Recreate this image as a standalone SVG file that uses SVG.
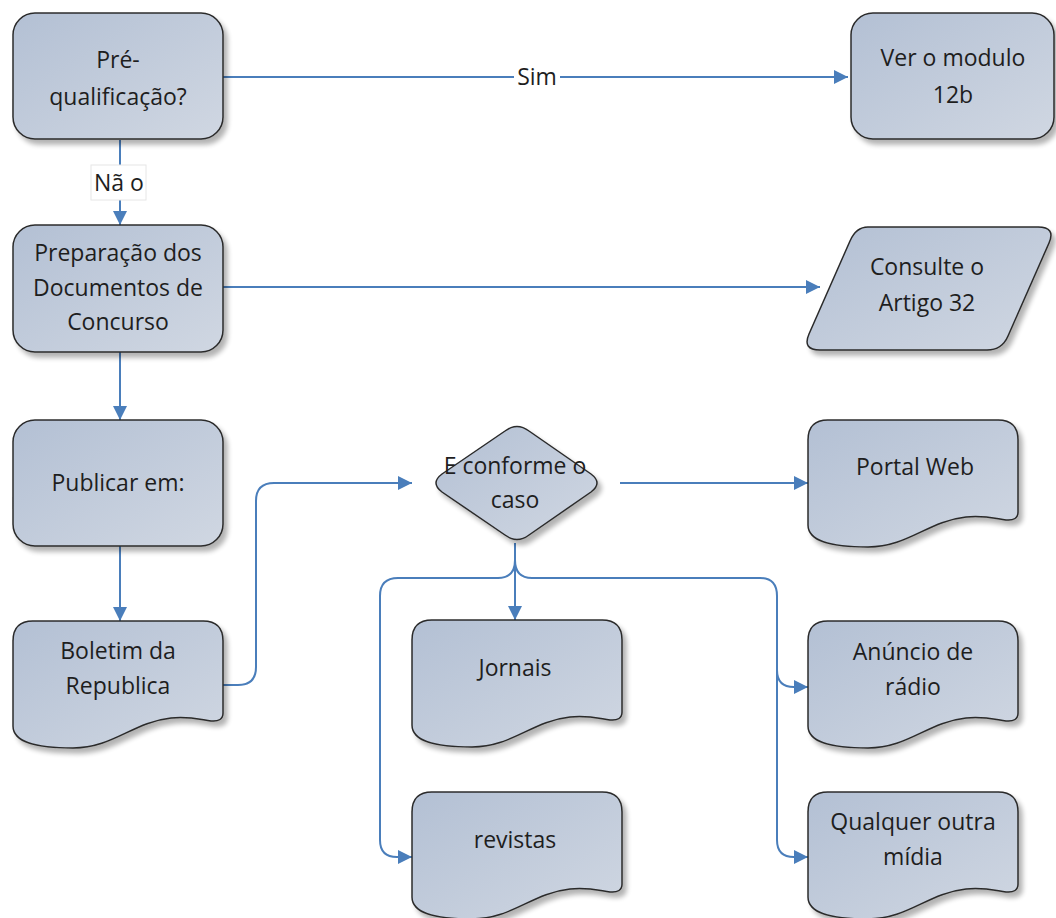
<svg xmlns="http://www.w3.org/2000/svg" width="1056" height="918" viewBox="0 0 1056 918">
<defs>
<linearGradient id="g" x1="0" y1="0" x2="1" y2="1">
<stop offset="0" stop-color="#b3c0d4"/>
<stop offset="1" stop-color="#d0d7e2"/>
</linearGradient>
<filter id="sh" x="-10%" y="-10%" width="130%" height="130%">
<feGaussianBlur in="SourceAlpha" stdDeviation="2.5"/>
<feOffset dx="4" dy="5" result="b"/>
<feComponentTransfer><feFuncA type="linear" slope="0.3"/></feComponentTransfer>
<feMerge><feMergeNode/><feMergeNode in="SourceGraphic"/></feMerge>
</filter>
<marker id="ah" viewBox="0 0 14 14" refX="14" refY="7" markerWidth="14" markerHeight="14" markerUnits="userSpaceOnUse" orient="auto">
<path d="M0,0 L14,7 L0,14 Z" fill="#4a7ebb"/>
</marker>
<path id="doc" d="M0,20 Q0,0 20,0 H190 Q210,0 210,20 V92 Q210,101 198,100 C185,98 175,95 158,97 C120,101 100,127 60,127 C25,127 0,122 0,105 Z"/>
</defs>
<style>
.n{fill:url(#g);stroke:#2b2b2b;stroke-width:1.5;filter:url(#sh)}
.t{font-family:"Open Sans","Liberation Sans",sans-serif;font-size:23px;fill:#1e1e1e;text-anchor:middle}
.c{fill:none;stroke:#4a7ebb;stroke-width:2}
.a{marker-end:url(#ah)}
</style>
<rect width="1056" height="918" fill="#ffffff"/>

<g id="connectors">
<path class="c a" d="M223,77 H848"/>
<path class="c a" d="M120,140 V225"/>
<path class="c a" d="M223,287 H820"/>
<path class="c a" d="M120,352 V420"/>
<path class="c a" d="M120,546 V621"/>
<path class="c a" d="M223,685 H238 Q256,685 256,667 V501 Q256,483 274,483 H412"/>
<path class="c a" d="M620,483 H808"/>
<path class="c a" d="M515,543 V620"/>
<path class="c a" d="M515,560 Q515,578 498,578 H398 Q380,578 380,596 V840 Q380,857 397,857 H412"/>
<path class="c a" d="M515,560 Q515,578 532,578 H760 Q777,578 777,596 V670 Q777,687 794,687 H808"/>
<path class="c a" d="M777,600 V840 Q777,857 794,857 H808"/>
<rect x="514" y="63" width="46" height="28" fill="#ffffff"/>
<text class="t" x="537" y="85">Sim</text>
<rect x="91" y="165" width="55" height="35" fill="#ffffff" stroke="#e6e6e6" stroke-width="1"/>
<text class="t" x="119" y="191">Nã o</text>
</g>

<g id="n1">
<rect class="n" x="13" y="13" width="210" height="126" rx="22"/>
<text class="t" x="118" y="68">Pré-</text>
<text class="t" x="118" y="105">qualificação?</text>
</g>
<g id="n2">
<rect class="n" x="851" y="13" width="203" height="126" rx="22"/>
<text class="t" x="953" y="66">Ver o modulo</text>
<text class="t" x="953" y="103">12b</text>
</g>
<g id="n3">
<rect class="n" x="13" y="225" width="210" height="127" rx="22"/>
<text class="t" x="118" y="261">Preparação dos</text>
<text class="t" x="118" y="296">Documentos de</text>
<text class="t" x="118" y="330">Concurso</text>
</g>
<g id="n4">
<path class="n" d="M868,227 H1038 Q1056,227 1049,243 L1008,336 Q1002,350 987,350 H820 Q802,350 809,334 L850,241 Q856,227 868,227 Z"/>
<text class="t" x="927" y="275">Consulte o</text>
<text class="t" x="927" y="311">Artigo 32</text>
</g>
<g id="n5">
<rect class="n" x="13" y="420" width="210" height="126" rx="22"/>
<text class="t" x="118" y="491">Publicar em:</text>
</g>
<g id="n6">
<path class="n" d="M442,474 L505,431 Q517,422 529,431 L591,474 Q603,483 591,492 L529,535 Q517,544 505,535 L442,492 Q430,483 442,474 Z"/>
<text class="t" x="515" y="474">E conforme o</text>
<text class="t" x="515" y="508">caso</text>
</g>
<g id="n7">
<use href="#doc" class="n" x="808" y="420"/>
<text class="t" x="915" y="475">Portal Web</text>
</g>
<g id="n8">
<use href="#doc" class="n" x="13" y="621"/>
<text class="t" x="118" y="659">Boletim da</text>
<text class="t" x="118" y="694">Republica</text>
</g>
<g id="n9">
<use href="#doc" class="n" x="412" y="620"/>
<text class="t" x="515" y="676">Jornais</text>
</g>
<g id="n10">
<use href="#doc" class="n" x="808" y="621"/>
<text class="t" x="913" y="660">Anúncio de</text>
<text class="t" x="913" y="695">rádio</text>
</g>
<g id="n11">
<use href="#doc" class="n" x="412" y="792"/>
<text class="t" x="515" y="848">revistas</text>
</g>
<g id="n12">
<use href="#doc" class="n" x="808" y="792"/>
<text class="t" x="913" y="830">Qualquer outra</text>
<text class="t" x="913" y="865">mídia</text>
</g>
</svg>
